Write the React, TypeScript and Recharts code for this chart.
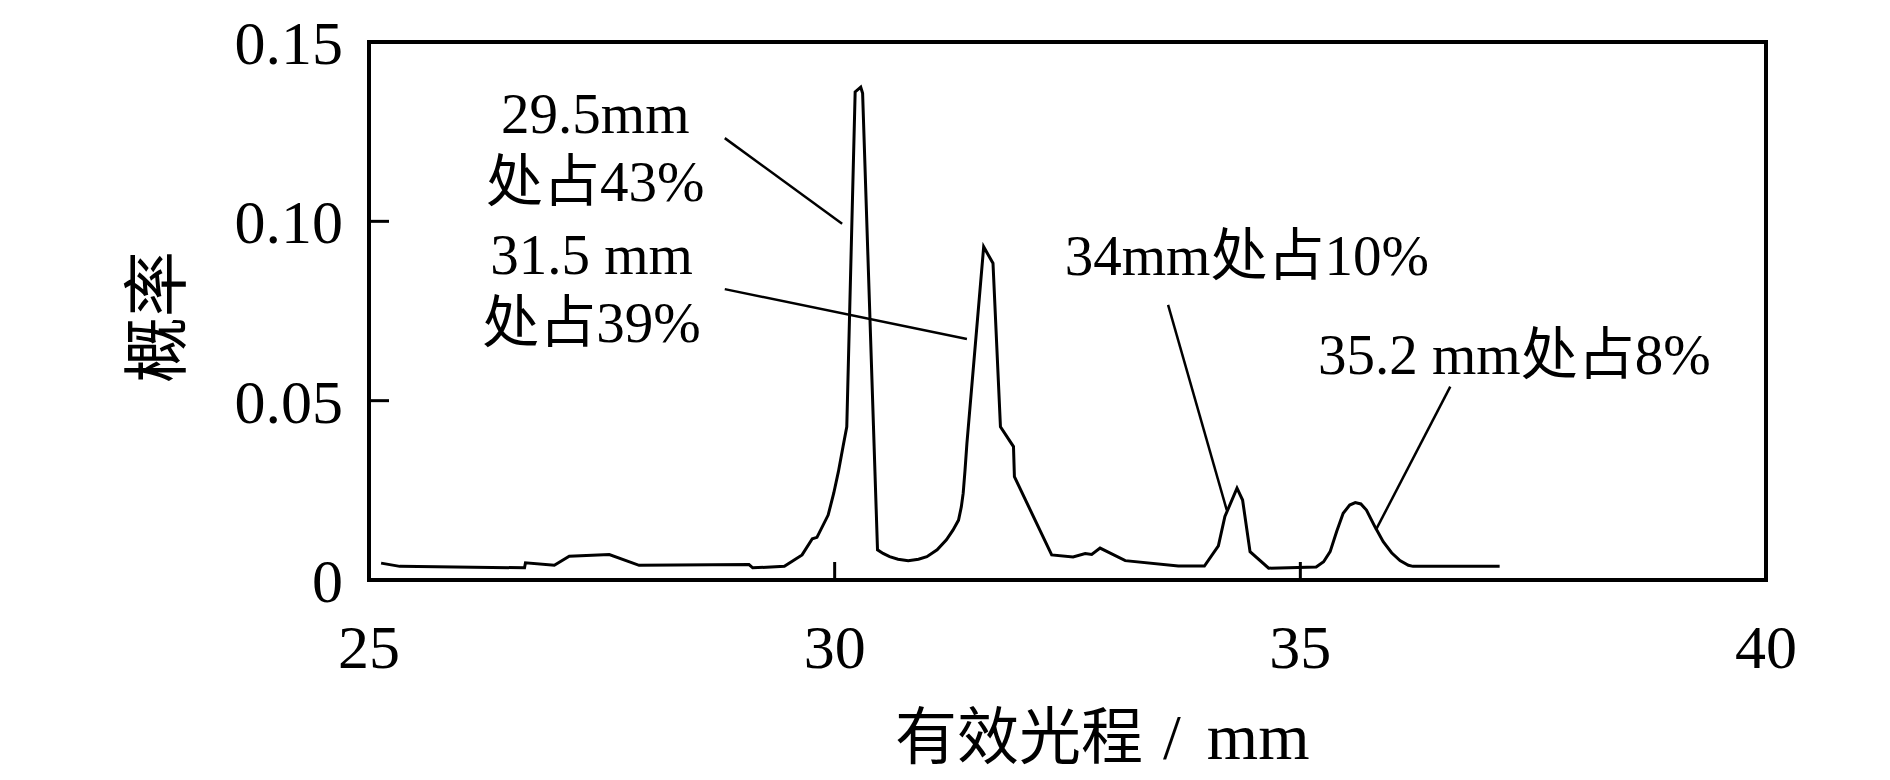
import React from "react"
import { LineChart, Line, XAxis, YAxis, ReferenceArea, ReferenceLine, ReferenceDot } from "recharts"

// 有效光程 (mm) and 概率
const pathLength = [
  25.13, 25.33, 26.67, 26.68, 26.99, 27.15, 27.58, 27.9, 29.08, 29.12, 29.46, 29.65, 29.76, 29.81,
  29.93, 29.99, 30.04, 30.09, 30.13, 30.22, 30.28, 30.3, 30.46, 30.52, 30.59, 30.68, 30.79, 30.9,
  30.99, 31.1, 31.2, 31.27, 31.33, 31.36, 31.38, 31.4, 31.42, 31.6, 31.7, 31.78, 31.92, 31.93,
  32.33, 32.56, 32.69, 32.76, 32.85, 33.12, 33.69, 33.97, 34.12, 34.19, 34.32, 34.38, 34.46, 34.66,
  35.17, 35.25, 35.32, 35.39, 35.46, 35.53, 35.59, 35.65, 35.71, 35.8, 35.89, 35.98, 36.07, 36.16,
  36.21, 37.14,
]

const probability = [
  0.0047, 0.0038, 0.0034, 0.0048, 0.0041, 0.0066, 0.0071, 0.0041, 0.0043, 0.0034, 0.0038, 0.007,
  0.0115, 0.0119, 0.0181, 0.0242, 0.0302, 0.0372, 0.0427, 0.1361, 0.1374, 0.1357, 0.0084, 0.0074,
  0.0065, 0.0058, 0.0054, 0.0058, 0.0065, 0.0084, 0.0112, 0.0139, 0.0167, 0.0204, 0.0242, 0.0307,
  0.0381, 0.0929, 0.0883, 0.0427, 0.0372, 0.0288, 0.007, 0.0064, 0.0074, 0.0071, 0.0089, 0.0054,
  0.0039, 0.0039, 0.0095, 0.0177, 0.0256, 0.0223, 0.0079, 0.0033, 0.0036, 0.0051, 0.0079, 0.0135,
  0.0186, 0.0209, 0.0216, 0.0212, 0.0195, 0.0149, 0.0107, 0.0076, 0.0054, 0.0041, 0.0038, 0.0038,
]

const xTicks = [25, 30, 35, 40]
const yTicks = [0, 0.05, 0.1, 0.15]

// peak notes: text lines, where the text sits and the leader line (data units)
const noteTexts = [
  ["29.5mm", "处占43%"],
  ["31.5 mm", "处占39%"],
  ["34mm处占10%"],
  ["35.2 mm处占8%"],
]
const noteAnchors: [number, number, "middle" | "start"][] = [
  [27.43, 0.1247, "middle"],
  [27.39, 0.0853, "middle"],
  [32.47, 0.085, "start"],
  [35.19, 0.0574, "start"],
]
const leaderLines = [
  [[28.82, 0.1232], [30.08, 0.0993]],
  [[28.82, 0.0811], [31.42, 0.0672]],
  [[33.58, 0.0767], [34.21, 0.0195]],
  [[36.61, 0.0539], [35.81, 0.0139]],
]

const data = pathLength.map((x, i) => ({ x, p: probability[i] }))

const SERIF = '"Liberation Serif", "Times New Roman", "Noto Sans CJK SC", serif'

const noteShape = (lines: string[], anchor: "middle" | "start") => (p: any) => (
  <text x={p.cx} y={p.cy} textAnchor={anchor} fontFamily={SERIF} fontSize={57} fill="#000">
    {lines.map((t, i) => (
      <tspan key={i} x={p.cx} dy={i === 0 ? 0 : 68}>
        {t}
      </tspan>
    ))}
  </text>
)

export default function App() {
  return (
    <div style={{ position: "absolute", left: 0, top: 0, width: 1890, height: 780, background: "#fff" }}>
      <LineChart width={1890} height={780} data={data} margin={{ top: 42, right: 124, bottom: 100, left: 229 }}>
        <XAxis
          dataKey="x"
          type="number"
          domain={[25, 40]}
          ticks={xTicks}
          interval={0}
          height={100}
          axisLine={false}
          tickSize={-18}
          tickMargin={62}
          tickLine={{ stroke: "#000", strokeWidth: 3 }}
          tick={{ fill: "#000", fontSize: 62, fontFamily: SERIF }}
          label={{
            content: (props: any) => {
              const vb = props.viewBox
              return (
                <text x={vb.x + 526} y={vb.y + 179} fontFamily={SERIF} fill="#000">
                  <tspan fontSize={62}>有效光程</tspan>
                  <tspan fontSize={64} dx={20}>/</tspan>
                  <tspan fontSize={66} dx={26}>mm</tspan>
                </text>
              )
            },
          }}
        />
        <YAxis
          type="number"
          domain={[0, 0.15]}
          ticks={yTicks}
          interval={0}
          width={140}
          axisLine={false}
          tickSize={-20}
          tickMargin={46}
          tickLine={{ stroke: "#000", strokeWidth: 3 }}
          tick={{ fill: "#000", fontSize: 62, fontFamily: SERIF }}
          tickFormatter={(v: number) => (v === 0 ? "0" : v.toFixed(2))}
          label={{
            content: (props: any) => {
              const vb = props.viewBox
              const cx = vb.x - 72
              const cy = vb.y + vb.height / 2 + 6
              return (
                <text
                  x={cx}
                  y={cy}
                  transform={`rotate(-90 ${cx} ${cy})`}
                  textAnchor="middle"
                  dominantBaseline="central"
                  fontFamily={SERIF}
                  fontSize={66}
                  fill="#000"
                >
                  概率
                </text>
              )
            },
          }}
        />
        <ReferenceArea x1={25} x2={40} y1={0} y2={0.15} fill="none" fillOpacity={0} stroke="#000" strokeWidth={4} />
        <Line dataKey="p" type="linear" dot={false} activeDot={false} stroke="#000" strokeWidth={3} isAnimationActive={false} />
        {leaderLines.map((seg, i) => (
          <ReferenceLine
            key={`l${i}`}
            segment={[
              { x: seg[0][0], y: seg[0][1] },
              { x: seg[1][0], y: seg[1][1] },
            ]}
            stroke="#000"
            strokeWidth={2.5}
          />
        ))}
        {noteTexts.map((lines, i) => (
          <ReferenceDot
            key={`n${i}`}
            x={noteAnchors[i][0]}
            y={noteAnchors[i][1]}
            r={0}
            shape={noteShape(lines, noteAnchors[i][2])}
          />
        ))}
      </LineChart>
    </div>
  )
}
